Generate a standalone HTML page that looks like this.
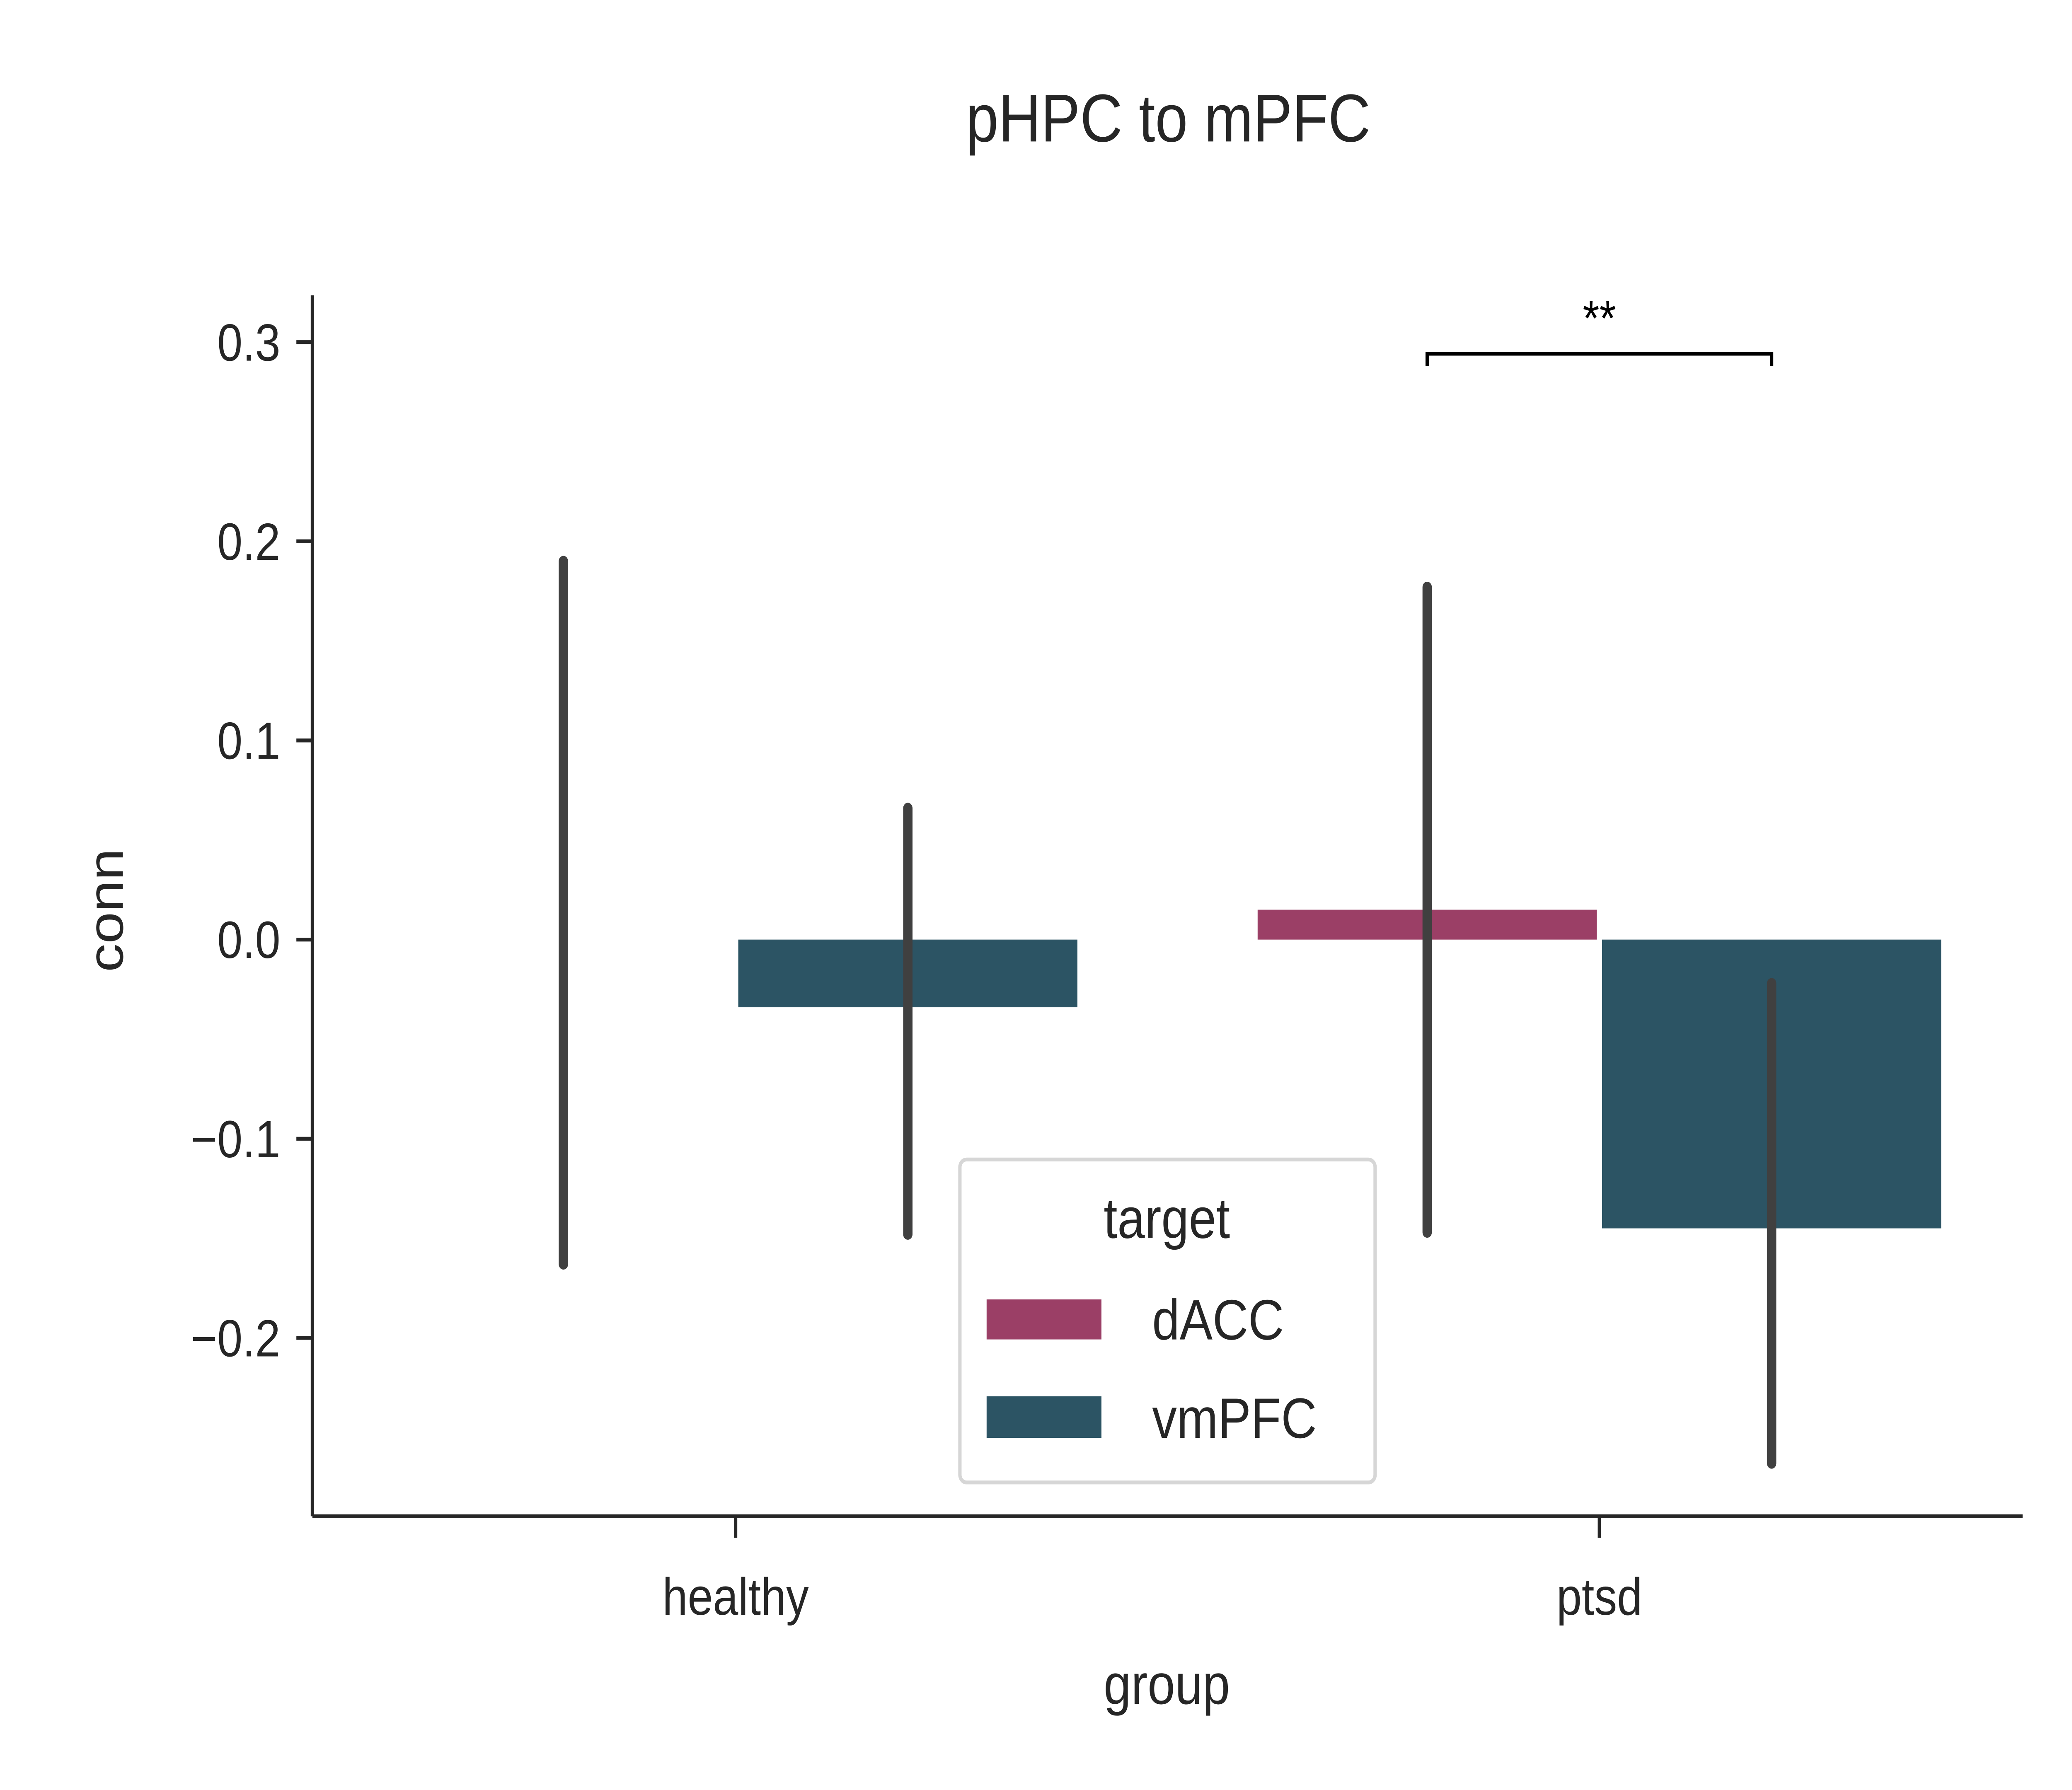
<!DOCTYPE html>
<html>
<head>
<meta charset="utf-8">
<style>
html,body{margin:0;padding:0;background:#fff;width:100%;height:100%;overflow:hidden;}
#chart{position:fixed;left:0;top:0;width:100vw;height:100vh;display:block;}
text{font-family:"Liberation Sans",Arial,sans-serif;fill:#262626;}
</style>
</head>
<body>
<svg id="chart" viewBox="0 0 1552 1164" preserveAspectRatio="none" xmlns="http://www.w3.org/2000/svg">
<rect width="1552" height="1164" fill="#fff"/>
<g id="marks"></g>
<g id="axes"></g>
<text x="875" y="92" text-anchor="middle" font-size="44">pHPC to mPFC</text>
<text transform="translate(92,592) rotate(-90)" text-anchor="middle" font-size="37">conn</text>
<text x="874" y="1108" text-anchor="middle" font-size="37">group</text>
<g>
<rect x="719" y="754" width="311" height="210" rx="5" fill="#fff" fill-opacity="0.8" stroke="#d6d6d6" stroke-width="2.5"/>
<text x="874" y="805" text-anchor="middle" font-size="37">target</text>
<rect x="739" y="845" width="86" height="26" fill="#9b3f66"/>
<text x="863" y="871" font-size="37">dACC</text>
<rect x="739" y="908" width="86" height="27" fill="#2c5464"/>
<text x="863" y="935" font-size="37">vmPFC</text>
</g>
</svg>
<script>
const groups = ["healthy", "ptsd"];
const targets = ["dACC", "vmPFC"];
const dACCValues = [0.0, 0.015];
const vmPFCValues = [-0.034, -0.145];
const dACCLow = [-0.163, -0.147];
const dACCHigh = [0.19, 0.177];
const vmPFCLow = [-0.148, -0.263];
const vmPFCHigh = [0.066, -0.022];
const yTicks = [-0.2, -0.1, 0.0, 0.1, 0.2, 0.3];
const yTickLabels = ["\u22120.2", "\u22120.1", "0.0", "0.1", "0.2", "0.3"];
const colors = ["#9b3f66", "#2c5464"];

const NS = "http://www.w3.org/2000/svg";
const plot = {left: 234, right: 1515, top: 192, bottom: 986};
function yScale(v){ return 611 - v * 1295; }
function xGroup(i){ return 551 + i * 647; }
const barW = 258;
function xBar(i, j){ return xGroup(i) - barW + j * barW; }

function mk(tag, attrs, parent){
  const e = document.createElementNS(NS, tag);
  for (const k in attrs) e.setAttribute(k, attrs[k]);
  parent.appendChild(e);
  return e;
}
const marks = document.getElementById("marks");
const axes = document.getElementById("axes");
const vals = [dACCValues, vmPFCValues];
const lows = [dACCLow, vmPFCLow];
const highs = [dACCHigh, vmPFCHigh];

groups.forEach((g, i) => {
  targets.forEach((t, j) => {
    const v = vals[j][i];
    const y0 = yScale(0), y1 = yScale(v);
    const h = Math.abs(y1 - y0);
    const r = mk("rect", {x: xBar(i, j) + 2, y: Math.min(y0, y1), width: barW - 4, height: h, fill: colors[j]}, marks);
    
    
  });
});
groups.forEach((g, i) => {
  targets.forEach((t, j) => {
    const cx = xBar(i, j) + barW / 2;
    const l = mk("line", {x1: cx, x2: cx, y1: yScale(highs[j][i]), y2: yScale(lows[j][i]), stroke: "#404040", "stroke-width": 7, "stroke-linecap": "round"}, marks);
    
    
  });
});

const ys = mk("line", {x1: plot.left, x2: plot.left, y1: plot.top, y2: plot.bottom, stroke: "#262626", "stroke-width": 2.5}, axes);


const xs = mk("line", {x1: plot.left, x2: plot.right, y1: plot.bottom, y2: plot.bottom, stroke: "#262626", "stroke-width": 2.5}, axes);



yTicks.forEach((v, k) => {
  const y = yScale(v);
  mk("line", {x1: plot.left - 12, x2: plot.left, y1: y, y2: y, stroke: "#262626", "stroke-width": 2.5}, axes);
  const t = mk("text", {x: plot.left - 24, y: y + 12, "text-anchor": "end", "font-size": 34}, axes);
  t.textContent = yTickLabels[k];
  
  
});
groups.forEach((g, i) => {
  const x = xGroup(i);
  mk("line", {x1: x, x2: x, y1: plot.bottom, y2: plot.bottom + 14, stroke: "#262626", "stroke-width": 2.5}, axes);
  const t = mk("text", {x: x, y: 1050, "text-anchor": "middle", "font-size": 34}, axes);
  t.textContent = g;
  
  
});

const bx1 = xBar(1, 0) + barW / 2, bx2 = xBar(1, 1) + barW / 2;
const br = mk("path", {d: `M${bx1} 238 V230 H${bx2} V238`, fill: "none", stroke: "#000", "stroke-width": 2.5}, axes);


const st = mk("text", {x: (bx1 + bx2) / 2, y: 218, "text-anchor": "middle", "font-size": 32, style: "fill:#000"}, axes);
st.textContent = "**";


</script>
</body>
</html>
